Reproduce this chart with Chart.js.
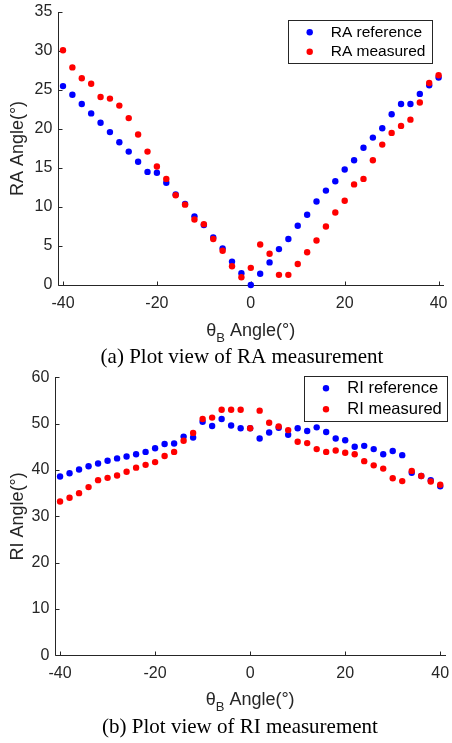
<!DOCTYPE html>
<html>
<head>
<meta charset="utf-8">
<script src="https://cdn.jsdelivr.net/npm/chart.js@4/dist/chart.umd.min.js"></script>
<style>
html,body{margin:0;padding:0;background:#fff;width:452px;height:743px;overflow:hidden;position:relative}
canvas{position:absolute;left:0}
#c1{top:0}
#c2{top:360px}
</style>
</head>
<body>
<canvas id="c1" width="452" height="372" style="width:452px;height:372px"></canvas>
<canvas id="c2" width="452" height="383" style="width:452px;height:383px"></canvas>
<script>
// ---- data ----
const angles = [-40,-38,-36,-34,-32,-30,-28,-26,-24,-22,-20,-18,-16,-14,-12,-10,-8,-6,-4,-2,0,
                2,4,6,8,10,12,14,16,18,20,22,24,26,28,30,32,34,36,38,40];

const raReference = [25.5,24.4,23.2,22.0,20.8,19.6,18.3,17.1,15.8,14.5,14.4,13.1,11.6,10.4,8.8,7.7,6.1,4.7,3.0,1.5,0.0,
                     1.45,2.9,4.6,5.9,7.6,9.0,10.7,12.1,13.3,14.8,16.0,17.6,18.9,20.1,21.9,23.2,23.2,24.5,25.6,26.6];
const raMeasured  = [30.1,27.9,26.5,25.8,24.1,23.9,23.0,21.4,19.3,17.1,15.2,13.6,11.5,10.3,8.4,7.8,5.9,4.4,2.4,1.0,2.2,
                     5.2,4.0,1.3,1.3,2.7,4.2,5.7,7.5,9.3,10.8,12.9,13.6,16.0,18.0,19.5,20.4,21.2,23.4,25.9,26.9];

const riReference = [38.6,39.3,40.1,40.8,41.4,42.0,42.5,42.9,43.4,43.9,44.7,45.6,45.7,47.2,47.0,50.4,49.5,51.0,49.6,49.0,49.0,
                     46.8,48.1,49.1,47.6,49.0,48.4,49.2,48.2,46.8,46.4,45.0,45.2,44.5,43.4,44.1,43.2,39.4,38.7,37.8,36.5];
const riMeasured  = [33.2,34.0,35.0,36.3,37.8,38.3,38.8,39.6,40.5,41.1,41.7,43.0,43.9,46.3,48.0,51.0,51.3,53.0,53.0,53.0,49.0,
                     52.8,50.2,49.4,48.6,46.1,45.8,44.5,43.9,44.2,43.7,43.4,41.9,41.0,40.3,38.2,37.6,39.8,38.7,37.5,36.8];

const raXTicks = [-40,-20,0,20,40];
const raYTicks = [0,5,10,15,20,25,30,35];
const riXTicks = [-40,-20,0,20,40];
const riYTicks = [0,10,20,30,40,50,60];

const raLabels = ['RA reference','RA measured'];
const riLabels = ['RI reference','RI measured'];

// ---- styling ----
const SANS = '"Liberation Sans", Arial, Helvetica, sans-serif';
const SERIF = '"Liberation Serif", "Times New Roman", serif';
const INK = '#262626';
const BLUE = '#0000FF';
const RED = '#FF0000';

const matlabPlugin = {
  id: 'matlab',
  beforeDatasetsDraw(chart) {
    const o = chart.options.plugins.matlab;
    const ctx = chart.ctx;
    const a = chart.chartArea;
    const xs = chart.scales.x, ys = chart.scales.y;
    ctx.save();
    ctx.strokeStyle = INK;
    ctx.lineWidth = 1;
    const lx = Math.round(a.left) + 0.5;
    const by = Math.round(a.bottom) + 0.5;
    ctx.beginPath();
    ctx.moveTo(lx, Math.round(a.top));
    ctx.lineTo(lx, by);
    ctx.lineTo(Math.round(a.right) + 1, by);
    ctx.stroke();
    ctx.beginPath();
    ys.ticks.forEach(t => {
      const y = Math.round(ys.getPixelForValue(t.value)) + 0.5;
      ctx.moveTo(lx, y); ctx.lineTo(lx + 4, y);
    });
    xs.ticks.forEach(t => {
      const x = Math.round(xs.getPixelForValue(t.value)) + 0.5;
      ctx.moveTo(x, by); ctx.lineTo(x, by - 4);
    });
    ctx.stroke();
    ctx.restore();
  },
  afterDraw(chart) {
    const o = chart.options.plugins.matlab;
    const ctx = chart.ctx;
    const a = chart.chartArea;
    ctx.save();
    ctx.fillStyle = INK;
    // y title
    ctx.font = o.titleSize + 'px ' + SANS;
    ctx.translate(o.yTitleX, (a.top + a.bottom) / 2);
    ctx.rotate(-Math.PI / 2);
    ctx.textAlign = 'center';
    ctx.textBaseline = 'alphabetic';
    ctx.fillText(o.yTitle, 0, 0);
    ctx.setTransform(1, 0, 0, 1, 0, 0);
    // x title with subscript
    const f = o.titleSize, fs = Math.round(f * 0.7);
    ctx.textAlign = 'left';
    ctx.font = f + 'px ' + SANS;
    const w1 = ctx.measureText('θ').width;
    const w3 = ctx.measureText(' Angle(°)').width;
    ctx.font = fs + 'px ' + SANS;
    const w2 = ctx.measureText('B').width;
    let x0 = (a.left + a.right) / 2 - (w1 + w2 + w3) / 2;
    ctx.font = f + 'px ' + SANS;
    ctx.fillText('θ', x0, o.xTitleY);
    ctx.font = fs + 'px ' + SANS;
    ctx.fillText('B', x0 + w1, o.xTitleY + f * 0.32);
    ctx.font = f + 'px ' + SANS;
    ctx.fillText(' Angle(°)', x0 + w1 + w2, o.xTitleY);
    // legend
    const L = o.legend;
    const bx = a.right + L.dRight - L.w, byy = a.top + L.dTop;
    ctx.fillStyle = '#fff';
    ctx.fillRect(bx, byy, L.w, L.h);
    ctx.strokeStyle = INK;
    ctx.lineWidth = 1;
    ctx.strokeRect(Math.round(bx) + 0.5, Math.round(byy) + 0.5, Math.round(L.w), Math.round(L.h));
    ctx.font = L.size + 'px ' + SANS;
    ctx.textBaseline = 'middle';
    chart.data.datasets.forEach((d, i) => {
      const ry = byy + L.row0 + i * L.gap;
      ctx.fillStyle = d.backgroundColor;
      ctx.beginPath();
      ctx.arc(bx + L.markX, ry, 3.2, 0, Math.PI * 2);
      ctx.fill();
      ctx.fillStyle = '#000';
      ctx.fillText(d.label, bx + L.textX, ry + 0.5);
    });
    // caption
    ctx.fillStyle = '#000';
    ctx.font = '21px ' + SERIF;
    ctx.textAlign = 'center';
    ctx.textBaseline = 'alphabetic';
    ctx.fillText(o.caption, o.captionX, o.captionY);
    ctx.restore();
  }
};

function makeChart(id, cfg) {
  const canvas = document.getElementById(id);
  const H = canvas.height, W = canvas.width;
  const area = cfg.area;
  const datasets = cfg.series.map((s, i) => ({
    label: s.label,
    data: angles.map((ang, k) => ({ x: ang, y: s.values[k] })),
    backgroundColor: s.color,
    borderColor: s.color,
    pointRadius: 3.2,
    pointHoverRadius: 3.2,
    pointBorderWidth: 0,
    showLine: false,
    order: cfg.series.length - i,
    clip: false
  }));
  return new Chart(canvas, {
    type: 'scatter',
    data: { datasets },
    plugins: [matlabPlugin],
    options: {
      responsive: false,
      animation: false,
      events: [],
      layout: { padding: { left: 0, top: area.top, right: W - area.right, bottom: 0 } },
      plugins: {
        legend: { display: false },
        tooltip: { enabled: false },
        matlab: cfg.decor
      },
      scales: {
        x: {
          type: 'linear', min: cfg.xMin, max: cfg.xMax,
          grid: { display: false, drawTicks: false },
          border: { display: false },
          ticks: { color: INK, font: { family: SANS, size: 16 }, padding: 9, maxRotation: 0 },
          afterBuildTicks: s => { s.ticks = cfg.xTicks.map(v => ({ value: v })); },
          afterFit: s => { s.height = H - area.bottom; s.paddingLeft = 0; s.paddingRight = 0; }
        },
        y: {
          type: 'linear', min: cfg.yMin, max: cfg.yMax,
          grid: { display: false, drawTicks: false },
          border: { display: false },
          ticks: { color: INK, font: { family: SANS, size: 16 }, padding: 6 },
          afterBuildTicks: s => { s.ticks = cfg.yTicks.map(v => ({ value: v })); },
          afterFit: s => { s.width = area.left; s.paddingTop = 0; s.paddingBottom = 0; }
        }
      }
    }
  });
}

makeChart('c1', {
  area: { left: 58.3, right: 443.3, top: 12, bottom: 285 },
  xMin: -41, xMax: 41, yMin: 0, yMax: 35,
  xTicks: raXTicks, yTicks: raYTicks,
  series: [
    { label: raLabels[0], values: raReference, color: BLUE },
    { label: raLabels[1], values: raMeasured, color: RED }
  ],
  decor: {
    yTitle: 'RA Angle(°)', yTitleX: 23, xTitleY: 336, titleSize: 18,
    caption: '(a) Plot view of RA measurement', captionX: 242, captionY: 363.3,
    legend: { dRight: -11.3, dTop: 8, w: 144, h: 43, row0: 12.3, gap: 19.4, markX: 21.7, textX: 42.7, size: 15.5 }
  }
});

makeChart('c2', {
  area: { left: 55.3, right: 445, top: 17.3, bottom: 295.3 },
  xMin: -41, xMax: 41, yMin: 0, yMax: 60,
  xTicks: riXTicks, yTicks: riYTicks,
  series: [
    { label: riLabels[0], values: riReference, color: BLUE },
    { label: riLabels[1], values: riMeasured, color: RED }
  ],
  decor: {
    yTitle: 'RI Angle(°)', yTitleX: 23, xTitleY: 345, titleSize: 18,
    caption: '(b) Plot view of RI measurement', captionX: 240, captionY: 373.3,
    legend: { dRight: 2.3, dTop: -1.6, w: 143, h: 45.3, row0: 12.6, gap: 21, markX: 21.7, textX: 43, size: 16.5 }
  }
});
</script>
</body>
</html>
